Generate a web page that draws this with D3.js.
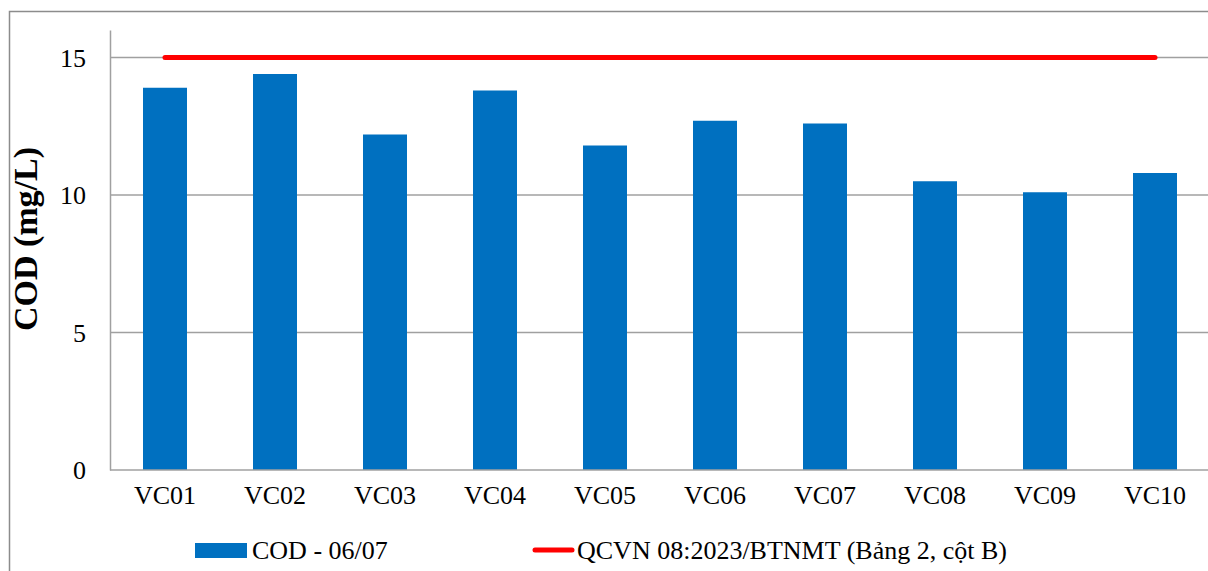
<!DOCTYPE html>
<html>
<head>
<meta charset="utf-8">
<script src="https://cdn.jsdelivr.net/npm/d3@7"></script>
<style>
  svg text { font-family: 'Times New Roman' !important; }
</style>
</head>
<body style="margin:0">
<script>
// data
var stations = ["VC01", "VC02", "VC03", "VC04", "VC05", "VC06", "VC07", "VC08", "VC09", "VC10"];
var codValues = [13.9, 14.4, 12.2, 13.8, 11.8, 12.7, 12.6, 10.5, 10.1, 10.8];
var limitValue = 15;
var yTicks = [0, 5, 10, 15];
var barLabel = "COD - 06/07";
var limitLabel = "QCVN 08:2023/BTNMT (Bảng 2, cột B)";

var fullwidth = 1208;
var fullheight = 571;
var margin = { top: 30, right: -2, bottom: 101, left: 110 };
var width = fullwidth - margin.left - margin.right;
var height = fullheight - margin.top - margin.bottom;

var root = d3.select("body")
    .append("svg")
    .attr("width", fullwidth)
    .attr("height", fullheight);

// outer frame
root.append("rect")
    .attr("x", 9.5)
    .attr("y", 11.5)
    .attr("width", 1220)
    .attr("height", 600)
    .attr("fill", "none")
    .attr("stroke", "#8c8c8c")
    .attr("stroke-width", 1.5);

var svg = root.append("g")
    .attr("transform", "translate(" + margin.left + "," + margin.top + ")");

var xScale = d3.scaleBand()
    .domain(stations)
    .range([0, width])
    .paddingInner(0.6)
    .paddingOuter(0.3);

var yScale = d3.scaleLinear()
    .domain([0, 16])
    .range([height, 0]);

// gridlines
svg.append("g")
    .attr("class", "grid")
    .selectAll("line")
    .data(yTicks.filter(function(d) { return d > 0; }))
    .enter()
    .append("line")
    .attr("x1", 0)
    .attr("x2", width + 10)
    .attr("y1", function(d) { return yScale(d); })
    .attr("y2", function(d) { return yScale(d); })
    .attr("stroke", "#a0a0a0")
    .attr("stroke-width", 1.5);

// bars
svg.selectAll("rect.bar")
    .data(codValues)
    .enter()
    .append("rect")
    .attr("class", "bar")
    .attr("x", function(d, i) { return xScale(stations[i]); })
    .attr("width", xScale.bandwidth())
    .attr("y", function(d) { return yScale(d); })
    .attr("height", function(d) { return height - yScale(d); })
    .attr("fill", "#0070c0");

// limit line, from first to last category centre
var limitLine = d3.line()
    .x(function(d) { return xScale(d) + xScale.bandwidth() / 2; })
    .y(function() { return yScale(limitValue); });

svg.append("path")
    .datum([stations[0], stations[stations.length - 1]])
    .attr("d", limitLine)
    .attr("fill", "none")
    .attr("stroke", "#ff0000")
    .attr("stroke-width", 5)
    .attr("stroke-linecap", "round");

// axes
var yAxis = d3.axisLeft(yScale)
    .tickValues(yTicks)
    .tickSize(0)
    .tickPadding(24);

var xAxis = d3.axisBottom(xScale)
    .tickSize(0)
    .tickPadding(16);

var gy = svg.append("g")
    .attr("class", "y axis")
    .call(yAxis)
    .attr("font-size", 26);
gy.select(".domain").attr("stroke", "#a0a0a0").attr("stroke-width", 1.5);
gy.selectAll("text")
    .attr("fill", "#000")
    .attr("dy", "0.34em");

var gx = svg.append("g")
    .attr("class", "x axis")
    .attr("transform", "translate(0," + height + ")")
    .call(xAxis)
    .attr("font-size", 26);
gx.select(".domain")
    .attr("d", "M0,0H" + (width + 10))
    .attr("stroke", "#a0a0a0")
    .attr("stroke-width", 1.5);
gx.selectAll("text")
    .attr("fill", "#000");

// y label
svg.append("text")
    .attr("transform", "translate(" + (-73) + "," + (yScale(8.4)) + ") rotate(-90)")
    .attr("text-anchor", "middle")
    .attr("font-size", 34)
    .attr("font-weight", "bold")
    .text("COD (mg/L)");

// legend
var legend = root.append("g").attr("class", "legend").attr("font-size", 26);

legend.append("rect")
    .attr("x", 195)
    .attr("y", 543)
    .attr("width", 52)
    .attr("height", 15)
    .attr("fill", "#0070c0");

legend.append("text")
    .attr("x", 252)
    .attr("y", 559)
    .text(barLabel);

legend.append("line")
    .attr("x1", 535)
    .attr("x2", 572)
    .attr("y1", 550)
    .attr("y2", 550)
    .attr("stroke", "#ff0000")
    .attr("stroke-width", 5)
    .attr("stroke-linecap", "round");

legend.append("text")
    .attr("x", 577)
    .attr("y", 559)
    .text(limitLabel);
</script>
</body>
</html>
